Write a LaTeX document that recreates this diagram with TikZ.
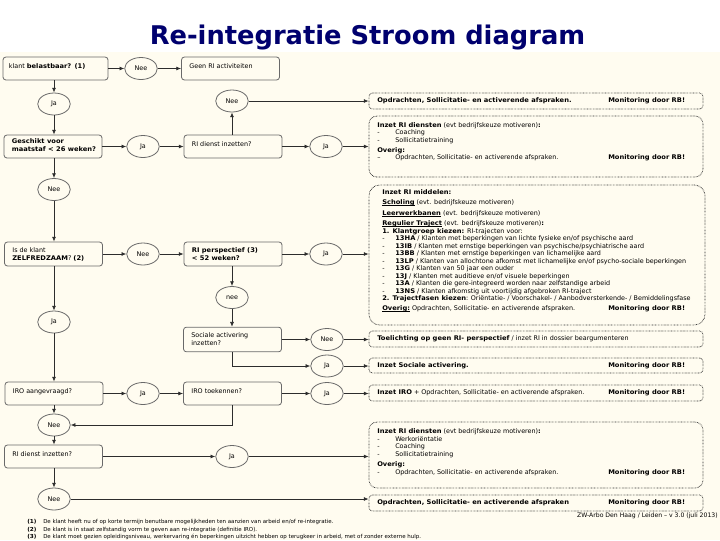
\documentclass[tikz,border=0pt]{standalone}
\usepackage{fontspec}
\setmainfont{DejaVu Sans}[BoldFeatures={FakeStretch=1.05}]
\newfontfamily\titlefont{DejaVu Sans}
\usetikzlibrary{shapes.geometric,arrows.meta,calc}
\definecolor{cream}{RGB}{255,252,240}
\definecolor{navy}{RGB}{0,0,110}
\definecolor{edge}{RGB}{105,105,105}
\definecolor{ink}{RGB}{45,45,45}
\newcommand\bxfont{\fontsize{4.8}{5.625}\selectfont\lineskiplimit=-\maxdimen}
\newcommand\ftfont{\fontsize{4.1}{5.625}\selectfont}
\newcommand\mon{\textbf{Monitoring door RB!}}
\newcommand\ulx[1]{\setbox0\hbox{#1}\rlap{\rule[-0.75pt]{\wd0}{0.35pt}}\box0\relax}
\begin{document}
\begin{tikzpicture}[x=0.75pt,y=-0.75pt,
  lbox/.style={draw=edge, line width=0.6pt, rounded corners=2.2pt, minimum width=73.5pt, minimum height=17.25pt, inner sep=0pt},
  oval/.style={ellipse, draw=edge, line width=0.6pt, minimum width=24.4pt, minimum height=16.5pt, inner sep=0pt, font=\bxfont},
  dbox/.style={draw=ink, line width=0.6pt, dash pattern=on 0.45pt off 0.65pt, rounded corners=2.5pt, minimum width=250.5pt, inner sep=0pt},
  bigdbox/.style={dbox, rounded corners=6pt},
  ltext/.style={anchor=north west, inner sep=0pt, align=left, font=\bxfont, text=black},
  rtext/.style={anchor=west, inner sep=0pt, align=left, font=\bxfont, text=black},
  mtext/.style={anchor=north west, inner sep=0pt, align=left, font=\bxfont, text=black},
  arr/.style={draw=ink, line width=0.55pt, -{Latex[length=3.6pt,width=3pt]}},
  title/.style={anchor=base, inner sep=0pt, text=navy, font=\titlefont\fontsize{19.3}{23}\selectfont\bfseries}
]
\useasboundingbox (0,0) rectangle (720,540);
\fill[white] (0,0) rectangle (720,540);
\fill[cream] (0,52) rectangle (720,540);

\node[title] (title) at (367.5,44) {Re-integratie Stroom diagram};

% ---------- left / middle decision boxes ----------
\node[lbox, minimum width=78.75pt] (b1) at (55.5,68.5) {};
\node[ltext] (t1) at ([shift={(6,6.5)}]b1.north west) {klant \textbf{belastbaar? (1)}};
\node[lbox] (b2) at (230.5,68.5) {};
\node[ltext] (t2) at ([shift={(8,6.5)}]b2.north west) {Geen RI activiteiten};
\node[lbox] (b3) at (53,146.5) {};
\node[ltext] (t3) at ([shift={(8,4)}]b3.north west) {\textbf{Geschikt voor}\\\textbf{maatstaf < 26 weken?}};
\node[lbox] (b4) at (233,146.5) {};
\node[ltext] (t4) at ([shift={(8,6.5)}]b4.north west) {RI dienst inzetten?};
\node[lbox, minimum height=18pt] (b5) at (53.5,254) {};
\node[ltext] (t5) at ([shift={(8,6)}]b5.north west) {Is de klant\\\textbf{ZELFREDZAAM}? \textbf{(2)}};
\node[lbox, minimum height=18pt] (b6) at (233,254) {};
\node[ltext] (t6) at ([shift={(8,6)}]b6.north west) {\textbf{RI perspectief (3)}\\\textbf{< 52 weken?}};
\node[lbox, minimum height=18.5pt] (b7) at (232.5,339.5) {};
\node[ltext] (t7) at ([shift={(8,6)}]b7.north west) {Sociale activering\\inzetten?};
\node[lbox] (b8) at (54,393.5) {};
\node[ltext] (t8) at ([shift={(8,6.5)}]b8.north west) {IRO aangevraagd?};
\node[lbox] (b9) at (232.5,393.5) {};
\node[ltext] (t9) at ([shift={(8,6.5)}]b9.north west) {IRO toekennen?};
\node[lbox] (b10) at (53.5,456.5) {};
\node[ltext] (t10) at ([shift={(8,6.5)}]b10.north west) {RI dienst inzetten?};

% ---------- ovals ----------
\node[oval] (n1) at (141,68.5) {Nee};
\node[oval] (j1) at (54,104) {Ja};
\node[oval] (n2) at (232,101) {Nee};
\node[oval] (j2) at (143,146.5) {Ja};
\node[oval] (j3) at (326,146.5) {Ja};
\node[oval] (n3) at (54,189.5) {Nee};
\node[oval] (n4) at (143,254) {Nee};
\node[oval] (j4) at (326,254) {Ja};
\node[oval] (n5) at (232,297.5) {nee};
\node[oval] (j5) at (54,322) {Ja};
\node[oval] (n6) at (327,339.5) {Nee};
\node[oval] (j6) at (327,366) {Ja};
\node[oval] (j7) at (143,393.5) {Ja};
\node[oval] (j8) at (327,393.5) {Ja};
\node[oval] (n7) at (54,425) {Nee};
\node[oval] (j9) at (232,456.5) {Ja};
\node[oval] (n8) at (54,499) {Nee};

% ---------- right-hand dotted boxes ----------
\node[dbox, minimum height=12pt] (r1) at (536,101) {};
\node[rtext] (s1) at (377,101) {\makebox[173.25pt][l]{\textbf{Opdrachten, Sollicitatie- en activerende afspraken.}}\mon};

\node[bigdbox, minimum height=45.75pt] (r2) at (536,146.5) {};
\node[mtext] (s2) at (377,122) {\textbf{Inzet RI diensten} (evt bedrijfskeuze motiveren)\textbf{:}\\
\makebox[13.5pt][l]{-}Coaching\\
\makebox[13.5pt][l]{-}Sollicitatietraining\\[1.875pt]
\textbf{Overig:}\\
\makebox[173.25pt][l]{\makebox[13.5pt][l]{–}Opdrachten, Sollicitatie- en activerende afspraken.}\mon};

\node[bigdbox, minimum width=252pt, minimum height=105pt, rounded corners=8pt] (r3) at (537,255) {};
\node[mtext] (s3) at (382,189) {\textbf{Inzet RI middelen:}\\[1.875pt]
\ulx{\textbf{Scholing}} (evt. bedrijfskeuze motiveren)\\[2.6pt]
\ulx{\textbf{Leerwerkbanen}} (evt. bedrijfskeuze motiveren)\\[2.25pt]
\ulx{\textbf{Regulier Traject}} (evt. bedrijfskeuze motiveren)\textbf{:}\\
\textbf{1. Klantgroep kiezen:} RI-trajecten voor:\\
\makebox[9.75pt][l]{-}\textbf{13HA} / Klanten met beperkingen van lichte fysieke en/of psychische aard\\
\makebox[9.75pt][l]{-}\textbf{13IB} / Klanten met ernstige beperkingen van psychische/psychiatrische aard\\
\makebox[9.75pt][l]{-}\textbf{13BB} / Klanten met ernstige beperkingen van lichamelijke aard\\
\makebox[9.75pt][l]{-}\textbf{13LP} / Klanten van allochtone afkomst met lichamelijke en/of psycho-sociale beperkingen\\
\makebox[9.75pt][l]{-}\textbf{13G} / Klanten van 50 jaar een ouder\\
\makebox[9.75pt][l]{-}\textbf{13J} / Klanten met auditieve en/of visuele beperkingen\\
\makebox[9.75pt][l]{-}\textbf{13A} / Klanten die gere-integreerd worden naar zelfstandige arbeid\\
\makebox[9.75pt][l]{-}\textbf{13NS} / Klanten afkomstig uit voortijdig afgebroken RI-traject\\
\textbf{2. Trajectfasen kiezen}: Oriëntatie- / Voorschakel- / Aanbodversterkende- / Bemiddelingsfase\\[1.5pt]
\makebox[169.5pt][l]{\ulx{\textbf{Overig:}} Opdrachten, Sollicitatie- en activerende afspraken.}\mon};

\node[dbox, minimum height=12pt] (r5) at (536,339) {};
\node[rtext] (s5) at (377,339) {\textbf{Toelichting op geen RI- perspectief} / inzet RI in dossier beargumenteren};

\node[dbox, minimum height=11.25pt] (r6) at (536,365.5) {};
\node[rtext] (s6) at (377,365.5) {\makebox[173.25pt][l]{\textbf{Inzet Sociale activering.}}\mon};

\node[dbox, minimum height=12pt] (r7) at (536,393) {};
\node[rtext] (s7) at (377,393) {\makebox[173.25pt][l]{\textbf{Inzet IRO} + Opdrachten, Sollicitatie- en activerende afspraken.}\mon};

\node[bigdbox, minimum height=49.5pt] (r4) at (536,455) {};
\node[mtext] (s4) at (377,428) {\textbf{Inzet RI diensten} (evt bedrijfskeuze motiveren)\textbf{:}\\[0.4pt]
\makebox[13.5pt][l]{-}Werkoriëntatie\\
\makebox[13.5pt][l]{-}Coaching\\
\makebox[13.5pt][l]{-}Sollicitatietraining\\[1.875pt]
\textbf{Overig:}\\[0.4pt]
\makebox[173.25pt][l]{\makebox[13.5pt][l]{-}Opdrachten, Sollicitatie- en activerende afspraken.}\mon};

\node[dbox, minimum height=12pt] (r8) at (536,503) {};
\node[rtext] (s8) at (377,503) {\makebox[173.25pt][l]{\textbf{Opdrachten, Sollicitatie- en activerende afspraken}}\mon};

\node[anchor=east, inner sep=0pt, font=\fontsize{4.6}{5}\selectfont] (ver) at (718,516) {ZW-Arbo Den Haag / Leiden – v 3.0 (juli 2013)};

% ---------- footnotes ----------
\node[anchor=west, inner sep=0pt, font=\ftfont\bfseries] (f1n) at (27,522) {(1)};
\node[anchor=west, inner sep=0pt, font=\ftfont] (f1) at (43,522) {De klant heeft nu of op korte termijn benutbare mogelijkheden ten aanzien van arbeid en/of re-integratie.};
\node[anchor=west, inner sep=0pt, font=\ftfont\bfseries] (f2n) at (27,529.5) {(2)};
\node[anchor=west, inner sep=0pt, font=\ftfont] (f2) at (43,529.5) {De klant is in staat zelfstandig vorm te geven aan re-integratie (definitie IRO).};
\node[anchor=west, inner sep=0pt, font=\ftfont\bfseries] (f3n) at (27,537) {(3)};
\node[anchor=west, inner sep=0pt, font=\ftfont] (f3) at (43,537) {De klant moet gezien opleidingsniveau, werkervaring én beperkingen uitzicht hebben op terugkeer in arbeid, met of zonder externe hulp.};

% ---------- connectors ----------
\draw[arr] (b1.east |- n1.west) -- (n1.west);
\draw[arr] (n1.east) -- (n1.east -| b2.west);
\draw[arr] (b1.south -| j1.north) -- (j1.north);
\draw[arr] (j1.south) -- (j1.south |- b3.north);
\draw[arr] (b3.east |- j2.west) -- (j2.west);
\draw[arr] (j2.east) -- (j2.east -| b4.west);
\draw[arr] (b4.north -| n2.south) -- (n2.south);
\draw[arr] (n2.east) -- (n2.east -| r1.west);
\draw[arr] (b4.east |- j3.west) -- (j3.west);
\draw[arr] (j3.east) -- (j3.east -| r2.west);
\draw[arr] (b3.south -| n3.north) -- (n3.north);
\draw[arr] (n3.south) -- (n3.south |- b5.north);
\draw[arr] (b5.east |- n4.west) -- (n4.west);
\draw[arr] (n4.east) -- (n4.east -| b6.west);
\draw[arr] (b6.east |- j4.west) -- (j4.west);
\draw[arr] (j4.east) -- (j4.east -| r3.west);
\draw[arr] (b6.south -| n5.north) -- (n5.north);
\draw[arr] (n5.south) -- (n5.south |- b7.north);
\draw[arr] (b5.south -| j5.north) -- (j5.north);
\draw[arr] (j5.south) -- (j5.south |- b8.north);
\draw[arr] (b7.east |- n6.west) -- (n6.west);
\draw[arr] (n6.east) -- (n6.east -| r5.west);
\draw[arr] (b7.south) |- (j6.west);
\draw[arr] (j6.east) -- (j6.east -| r6.west);
\draw[arr] (b8.east |- j7.west) -- (j7.west);
\draw[arr] (j7.east) -- (j7.east -| b9.west);
\draw[arr] (b9.east |- j8.west) -- (j8.west);
\draw[arr] (j8.east) -- (j8.east -| r7.west);
\draw[arr] (b8.south -| n7.north) -- (n7.north);
\draw[arr] (b9.south) |- (n7.east);
\draw[arr] (n7.south) -- (n7.south |- b10.north);
\draw[arr] (b10.east |- j9.west) -- (j9.west);
\draw[arr] (j9.east) -- (j9.east -| r4.west);
\draw[arr] (b10.south -| n8.north) -- (n8.north);
\draw[arr] (n8.east) -- (n8.east -| r8.west);
\end{tikzpicture}
\end{document}
